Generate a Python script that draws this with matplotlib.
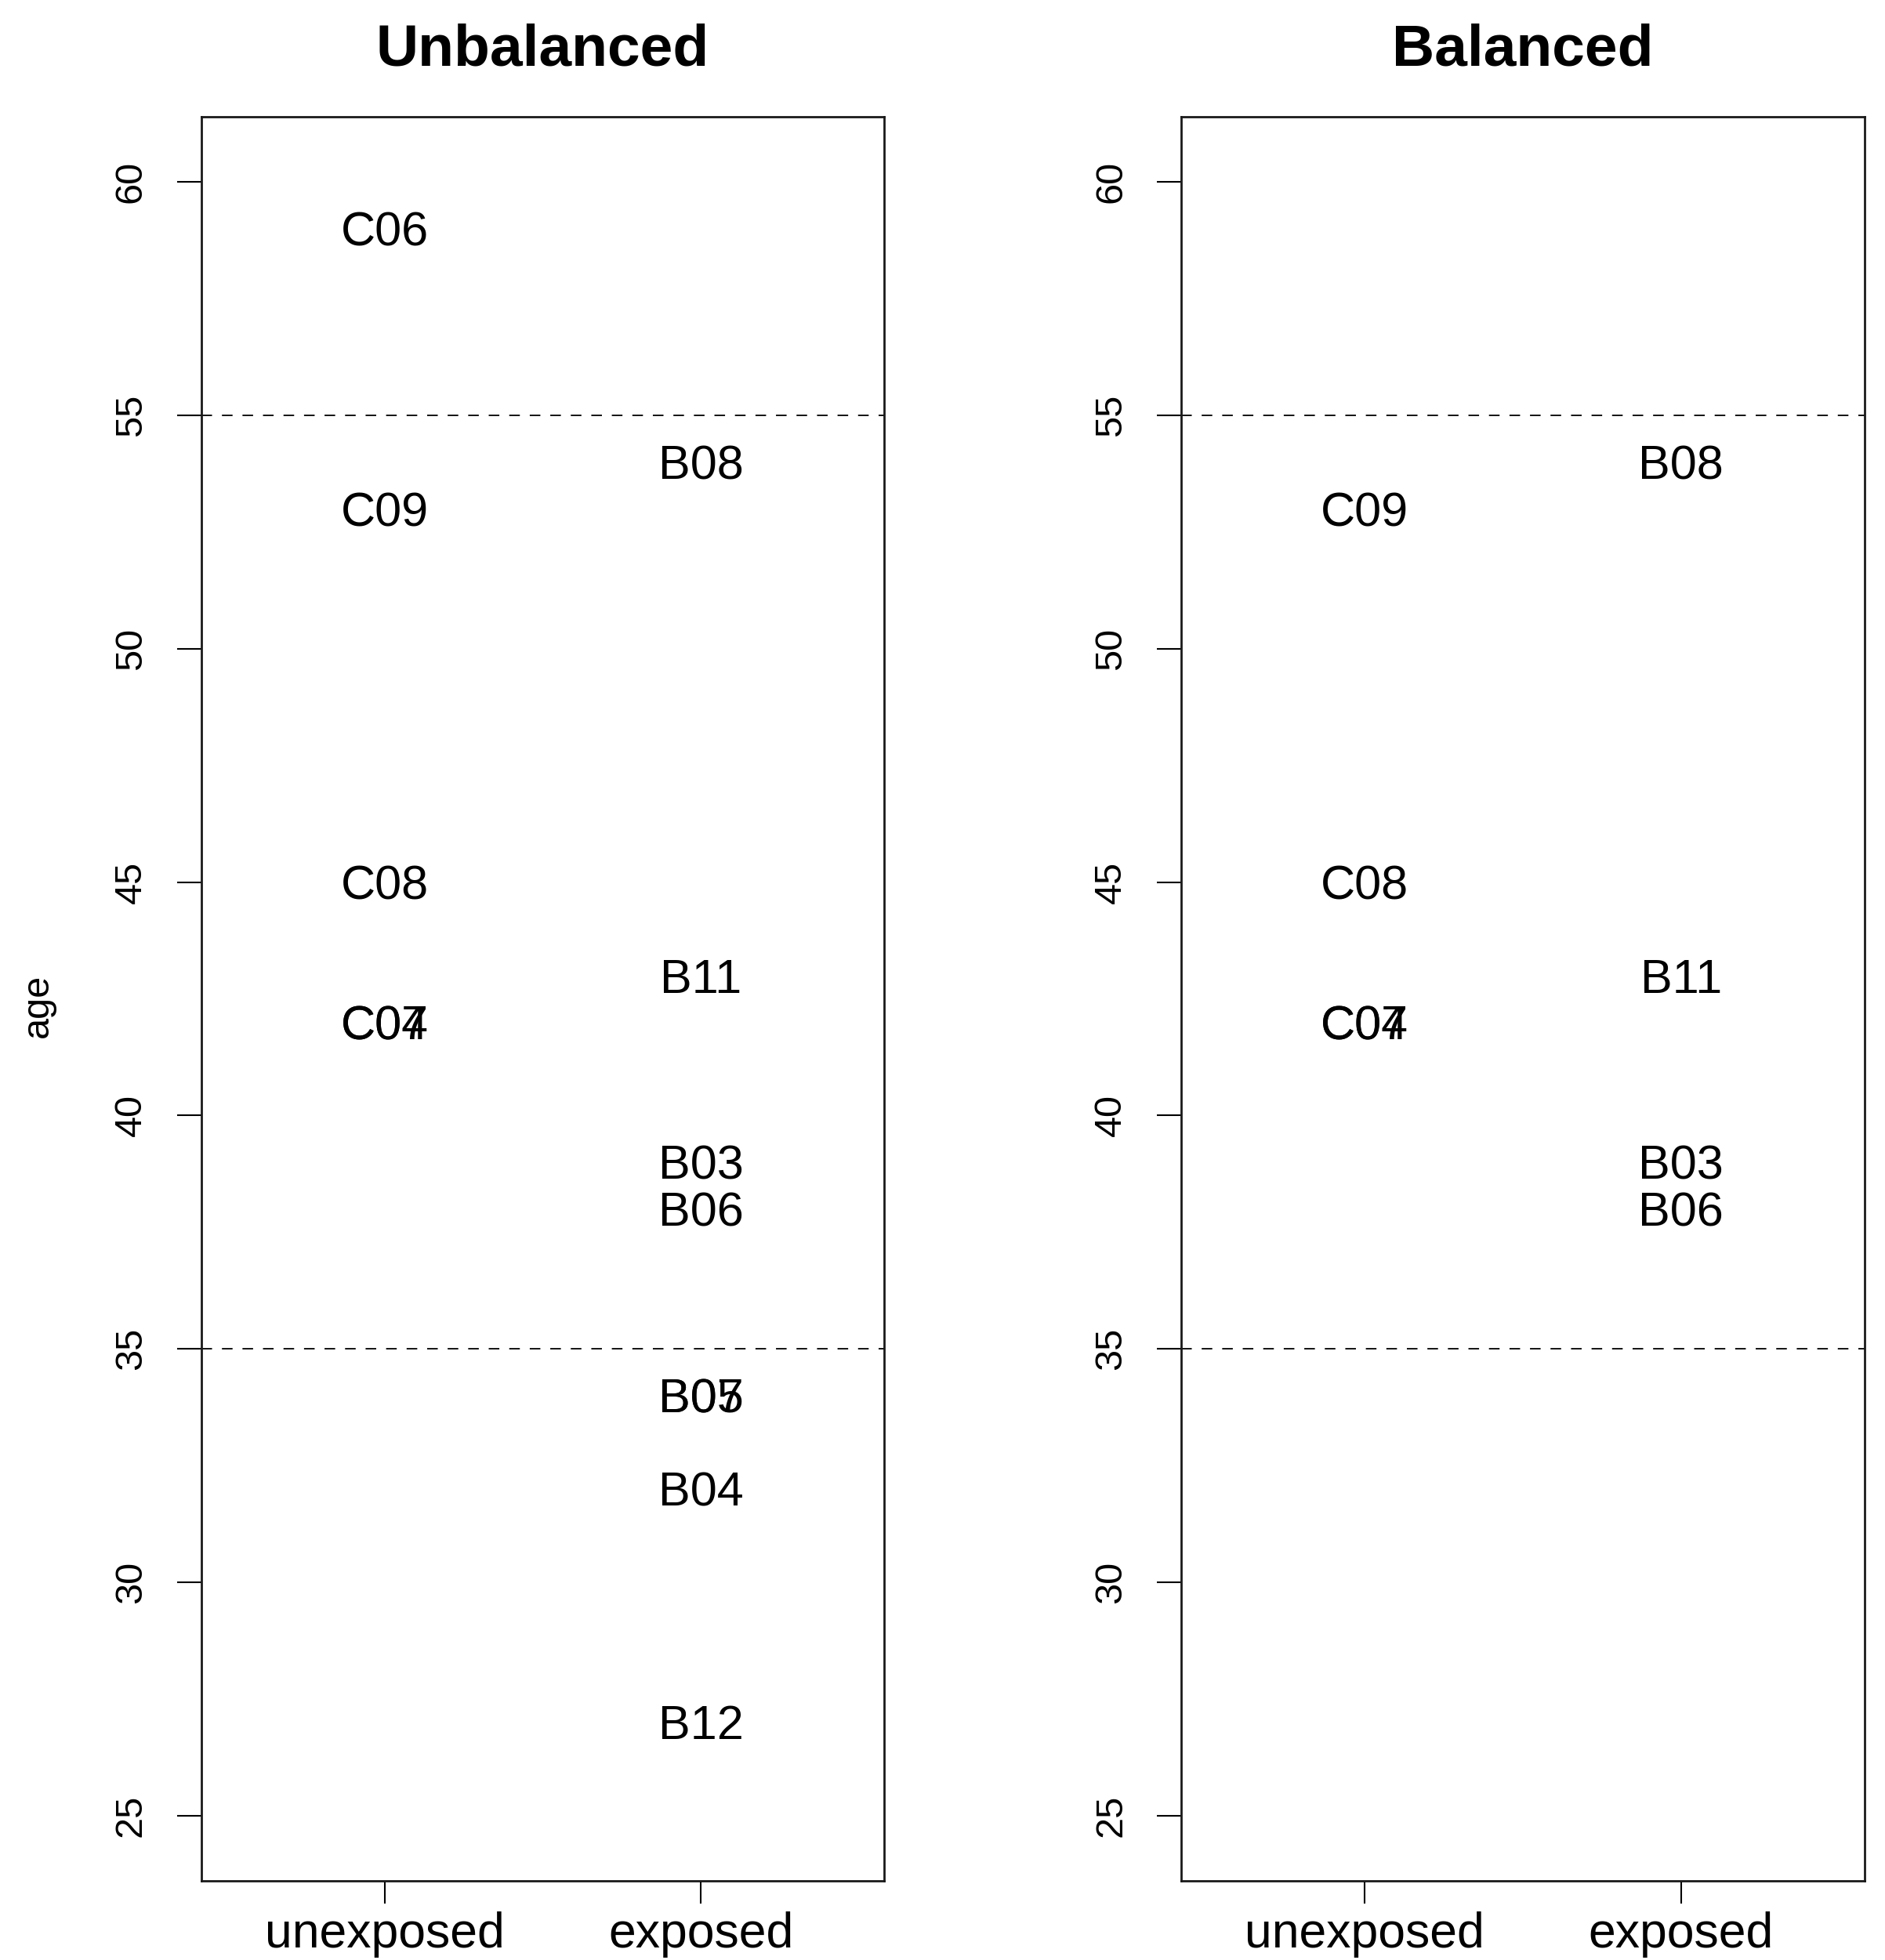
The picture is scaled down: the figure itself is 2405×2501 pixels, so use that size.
import matplotlib
matplotlib.use('Agg')
import matplotlib.pyplot as plt

plt.rcParams['font.family'] = ['Liberation Sans', 'DejaVu Sans']

# group labels on the x axis (positions 1 and 2)
groups = ['unexposed', 'exposed']

# Unbalanced panel: subject id, age, group (1 = unexposed, 2 = exposed)
unbal_ids = ['C06', 'C09', 'C08', 'C04', 'C07',
             'B08', 'B11', 'B03', 'B06', 'B05', 'B07', 'B04', 'B12']
unbal_age = [59, 53, 45, 42, 42, 54, 43, 39, 38, 34, 34, 32, 27]
unbal_grp = [1, 1, 1, 1, 1, 2, 2, 2, 2, 2, 2, 2, 2]

# Balanced panel
bal_ids = ['C09', 'C08', 'C04', 'C07', 'B08', 'B11', 'B03', 'B06']
bal_age = [53, 45, 42, 42, 54, 43, 39, 38]
bal_grp = [1, 1, 1, 1, 2, 2, 2, 2]

# age band cut-offs (dashed lines)
cutoffs = [35, 55]
y_ticks = [25, 30, 35, 40, 45, 50, 55, 60]


def draw_panel(ax, ids, ages, grps, title):
    for name, a, g in zip(ids, ages, grps):
        ax.text(g, a, name, ha='center', va='center_baseline', fontsize=44)
    for c in cutoffs:
        ax.axhline(c, color='black', lw=1.3, linestyle=(0, (7.5, 7)))
    ax.set_xlim(0.42, 2.58)
    ax.set_ylim(23.6, 61.4)
    ax.set_xticks([1, 2])
    ax.set_xticklabels(groups, fontsize=45)
    ax.set_yticks(y_ticks)
    ax.set_yticklabels([str(t) for t in y_ticks], fontsize=35,
                       rotation=90, va='center')
    ax.tick_params(axis='y', length=22, width=1.5, pad=26)
    ax.tick_params(axis='x', length=21, width=1.5, pad=7)
    for sp in ax.spines.values():
        sp.set_linewidth(2.0)
        sp.set_color('#1a1a1a')
    ax.text(0.5, 1.0413, title, transform=ax.transAxes, ha='center',
            va='center_baseline', fontsize=54, fontweight='bold')


fig = plt.figure(figsize=(24.05, 25.01), dpi=100)
ax1 = fig.add_axes([0.1067, 0.0404, 0.3625, 0.9])
ax2 = fig.add_axes([0.6266, 0.0404, 0.3625, 0.9])

draw_panel(ax1, unbal_ids, unbal_age, unbal_grp, 'Unbalanced')
draw_panel(ax2, bal_ids, bal_age, bal_grp, 'Balanced')

fig.text(48 / 2405, 1 - 1283 / 2501, 'age', rotation=90, ha='center',
         va='center', fontsize=35)

fig.savefig('out.png', dpi=100)
